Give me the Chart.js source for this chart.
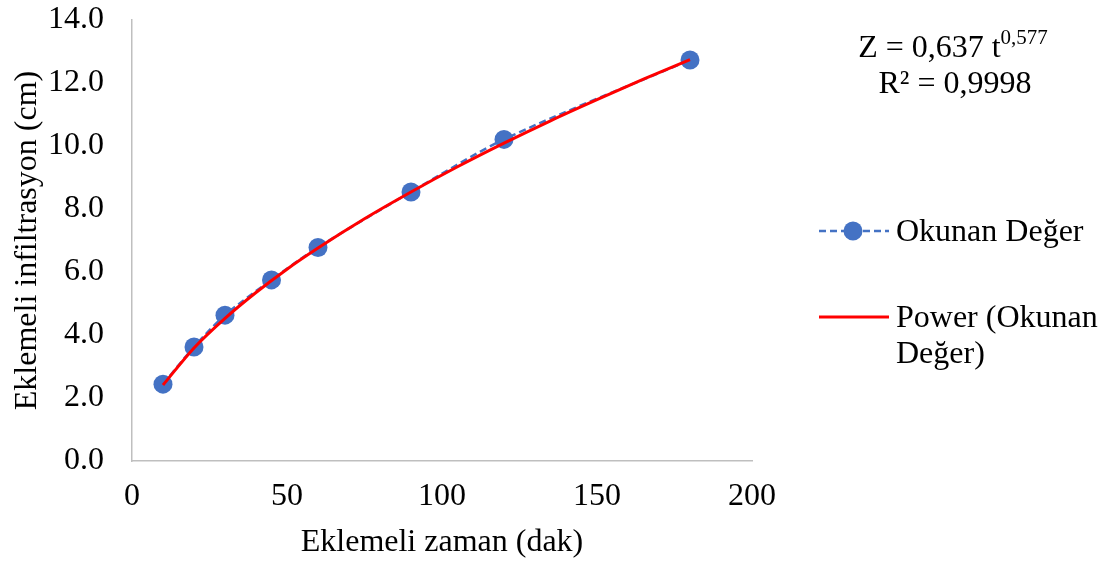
<!DOCTYPE html>
<html>
<head>
<meta charset="utf-8">
<script src="https://cdn.jsdelivr.net/npm/chart.js@4/dist/chart.umd.min.js"></script>
<style>
  body { margin: 0; background: #fff; }
  canvas { display: block; }
</style>
</head>
<body>
<canvas id="myChart" width="1103" height="562"></canvas>
<script>
// okunan degerler (measured)
var zaman = [10, 20, 30, 45, 60, 90, 120, 180];
var infiltrasyon = [2.44, 3.62, 4.63, 5.75, 6.78, 8.54, 10.21, 12.73];

// power trend line
var trendZaman = [10, 20, 30, 40, 50, 60, 75, 90, 105, 120, 135, 150, 165, 180];
var trendDeger = [2.41, 3.59, 4.53, 5.35, 6.09, 6.76, 7.69, 8.54, 9.34, 10.09, 10.80, 11.47, 12.12, 12.74];

var serif = '"Liberation Serif", "Times New Roman", serif';
var blue = '#4472C4';
var red = '#FF0000';
var fs = 32;

function toXY(xs, ys) {
    return xs.map(function (x, i) { return { x: x, y: ys[i] }; });
}

var sideText = {
    id: 'sideText',
    afterDraw: function (chart) {
        var c = chart.ctx;
        c.save();
        c.fillStyle = '#000';
        c.textBaseline = 'middle';

        // equation
        var main = 'Z = 0,637 t';
        c.font = fs + 'px ' + serif;
        var w1 = c.measureText(main).width;
        c.font = '21px ' + serif;
        var w2 = c.measureText('0,577').width;
        var sx = 953 - (w1 + w2) / 2;
        c.font = fs + 'px ' + serif;
        c.textAlign = 'left';
        c.fillText(main, sx, 49);
        c.font = '21px ' + serif;
        c.fillText('0,577', sx + w1, 38);
        c.font = fs + 'px ' + serif;
        c.textAlign = 'center';
        c.fillText('R² = 0,9998', 955, 85);

        // legend: Okunan Değer
        c.strokeStyle = blue;
        c.lineWidth = 2.5;
        c.setLineDash([7, 4]);
        c.beginPath();
        c.moveTo(819, 231);
        c.lineTo(889, 231);
        c.stroke();
        c.setLineDash([]);
        c.fillStyle = blue;
        c.beginPath();
        c.arc(853, 231, 9.5, 0, Math.PI * 2);
        c.fill();

        c.fillStyle = '#000';
        c.textAlign = 'left';
        c.fillText('Okunan Değer', 896, 233);

        // legend: Power
        c.strokeStyle = red;
        c.lineWidth = 3;
        c.beginPath();
        c.moveTo(819, 317);
        c.lineTo(889, 317);
        c.stroke();
        c.fillText('Power (Okunan', 896, 319);
        c.fillText('Değer)', 896, 355);
        c.restore();
    }
};

var ctx = document.getElementById('myChart').getContext('2d');
var myChart = new Chart(ctx, {
    type: 'scatter',
    data: {
        datasets: [{
            label: 'Power (Okunan Değer)',
            data: toXY(trendZaman, trendDeger),
            showLine: true,
            borderColor: red,
            borderWidth: 3,
            pointRadius: 0,
            cubicInterpolationMode: 'monotone',
            order: 0
        }, {
            label: 'Okunan Değer',
            data: toXY(zaman, infiltrasyon),
            showLine: true,
            borderColor: blue,
            borderWidth: 2.5,
            borderDash: [7, 4],
            backgroundColor: blue,
            pointBackgroundColor: blue,
            pointBorderWidth: 0,
            pointRadius: 9.5,
            tension: 0.3,
            order: 1
        }]
    },
    options: {
        responsive: false,
        animation: false,
        layout: { padding: { left: 0, top: 20, right: 351, bottom: 0 } },
        plugins: {
            legend: { display: false },
            tooltip: { enabled: false }
        },
        scales: {
            x: {
                type: 'linear',
                min: 0,
                max: 200,
                ticks: { stepSize: 50, color: '#000', padding: 16, font: { family: serif, size: fs } },
                grid: { display: false, drawTicks: false },
                border: { color: '#BFBFBF', width: 1.5 },
                title: {
                    display: true,
                    text: 'Eklemeli zaman (dak)',
                    color: '#000',
                    font: { family: serif, size: fs },
                    padding: { top: 4, bottom: 0 }
                },
                afterFit: function (s) {
                    s.height = 101;
                    s.paddingLeft = 0;
                    s.paddingRight = 0;
                }
            },
            y: {
                min: 0,
                max: 14,
                ticks: {
                    stepSize: 2,
                    color: '#000',
                    padding: 28,
                    font: { family: serif, size: fs },
                    callback: function (v) { return v.toFixed(1); }
                },
                grid: { display: false, drawTicks: false },
                border: { color: '#BFBFBF', width: 1.5 },
                title: {
                    display: true,
                    text: 'Eklemeli infiltrasyon (cm)',
                    color: '#000',
                    font: { family: serif, size: fs },
                    padding: { top: 8, bottom: 0 }
                },
                afterFit: function (s) {
                    s.width = 132;
                    s.paddingTop = 0;
                    s.paddingBottom = 0;
                }
            }
        }
    },
    plugins: [sideText]
});
</script>
</body>
</html>
